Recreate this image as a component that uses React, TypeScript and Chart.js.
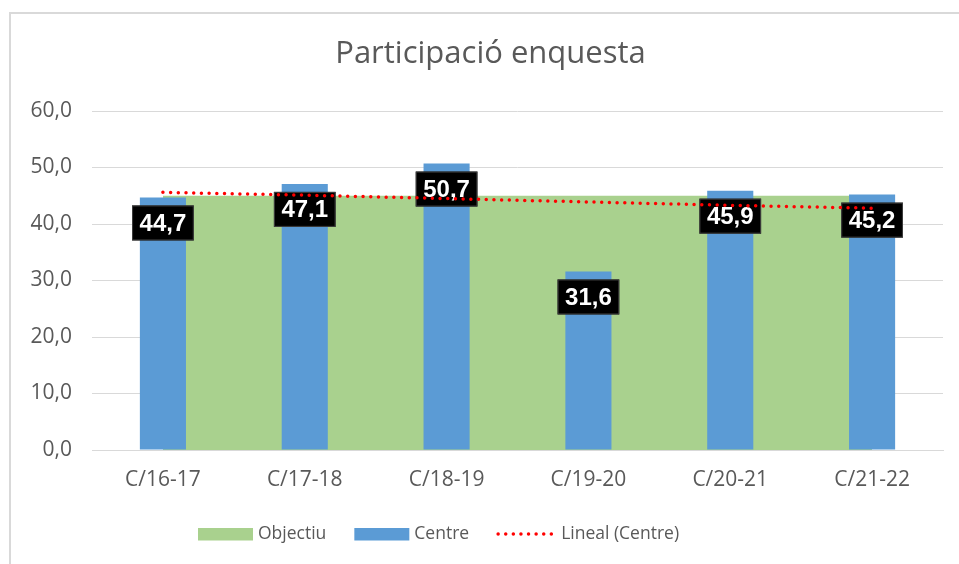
import React, { useEffect, useRef } from "react";
import { Chart, registerables } from "chart.js";

Chart.register(...registerables);

const categories = ["C/16-17", "C/17-18", "C/18-19", "C/19-20", "C/20-21", "C/21-22"];
const objectiu = [45, 45, 45, 45, 45, 45];
const centre = [44.7, 47.1, 50.7, 31.6, 45.9, 45.2];
const trendCentre = [45.6, 45.1, 44.5, 43.9, 43.3, 42.8];
const yMin = 0;
const yMax = 60;
const yStep = 10;
const titleText = "Participació enquesta";
const legendLabels = ["Objectiu", "Centre", "Lineal (Centre)"];

const GREEN = "#a9d18e";
const BLUE = "#5b9bd5";
const RED = "#ff0000";
const TEXT = "#595959";
const GRID = "#d9d9d9";
const FONT = "'Open Sans', sans-serif";

const fmt = (v: number) => v.toFixed(1).replace(".", ",");

const decorPlugin = {
  id: "decor",
  beforeDraw(chart: any) {
    const ctx = chart.ctx;
    ctx.save();
    ctx.fillStyle = GRID;
    ctx.fillRect(9, 12, 950, 2);
    ctx.fillRect(9, 12, 2, 552);
    ctx.restore();
  },
  afterDatasetDraw(chart: any, args: any) {
    if (args.index !== 1) return;
    const ctx = chart.ctx;
    const meta = chart.getDatasetMeta(1);
    ctx.save();
    ctx.font = "bold 24px 'Liberation Sans', Arial, sans-serif";
    ctx.textAlign = "center";
    ctx.textBaseline = "middle";
    meta.data.forEach((bar: any, i: number) => {
      const txt = fmt(centre[i]);
      const w = ctx.measureText(txt).width + 15;
      const h = 35;
      const cx = bar.x;
      const cy = bar.y + 25.5;
      ctx.fillStyle = "#000000";
      ctx.fillRect(cx - w / 2, cy - h / 2, w, h);
      ctx.strokeStyle = "#404040";
      ctx.lineWidth = 1;
      ctx.strokeRect(cx - w / 2 + 0.5, cy - h / 2 + 0.5, w - 1, h - 1);
      ctx.fillStyle = "#ffffff";
      ctx.fillText(txt, cx, cy + 1);
    });
    ctx.restore();
  },
  afterDraw(chart: any) {
    const ctx = chart.ctx;
    ctx.save();
    // title
    ctx.fillStyle = TEXT;
    ctx.font = `31px ${FONT}`;
    ctx.textAlign = "center";
    ctx.textBaseline = "alphabetic";
    ctx.fillText(titleText, 490.5, 63);
    // legend
    ctx.font = `17.5px ${FONT}`;
    ctx.textAlign = "left";
    ctx.textBaseline = "middle";
    const y = 534;
    let x = 198;
    const boxW = 55;
    const kinds = ["green", "blue", "line"];
    legendLabels.forEach((lbl, i) => {
      if (kinds[i] === "line") {
        ctx.save();
        ctx.strokeStyle = RED;
        ctx.lineWidth = 3.5;
        ctx.lineCap = "round";
        ctx.setLineDash([0, 7.6]);
        ctx.beginPath();
        ctx.moveTo(x + 1, y);
        ctx.lineTo(x + boxW, y);
        ctx.stroke();
        ctx.restore();
      } else {
        ctx.fillStyle = kinds[i] === "green" ? GREEN : BLUE;
        ctx.fillRect(x, y - 6, boxW, 12.5);
      }
      ctx.fillStyle = TEXT;
      const tx = x + boxW + (kinds[i] === "line" ? 9 : 5);
      ctx.fillText(lbl, tx, y);
      x = tx + ctx.measureText(lbl).width + 28;
    });
    ctx.restore();
  },
};

export default function App() {
  const ref = useRef<HTMLCanvasElement>(null);
  useEffect(() => {
    if (!ref.current) return;
    const chart = new Chart(ref.current, {
      type: "bar",
      data: {
        labels: categories,
        datasets: [
          {
            type: "line",
            label: legendLabels[0],
            data: objectiu,
            backgroundColor: GREEN,
            borderColor: GREEN,
            borderWidth: 0,
            pointRadius: 0,
            fill: "origin",
            tension: 0,
            order: 3,
          } as any,
          {
            type: "bar",
            label: legendLabels[1],
            data: centre,
            backgroundColor: BLUE,
            borderWidth: 0,
            barPercentage: 1,
            categoryPercentage: 0.325,
            order: 2,
          },
          {
            type: "line",
            label: legendLabels[2],
            data: trendCentre,
            borderColor: RED,
            borderWidth: 3.5,
            borderDash: [0, 7.7],
            borderCapStyle: "round",
            pointRadius: 0,
            fill: false,
            tension: 0,
            order: 1,
          } as any,
        ],
      },
      options: {
        responsive: false,
        animation: false,
        devicePixelRatio: 1,
        layout: { padding: { top: 111, right: 16, bottom: 74, left: 0 } },
        plugins: {
          legend: { display: false },
          title: { display: false },
          tooltip: { enabled: false },
        },
        scales: {
          x: {
            offset: true,
            grid: { display: false, drawTicks: false },
            border: { display: true, color: GRID, width: 1 },
            ticks: { color: TEXT, font: { family: FONT, size: 21 }, padding: 17 },
            afterFit: (s: any) => { s.height = 40; },
          },
          y: {
            min: yMin,
            max: yMax,
            grid: { color: GRID, lineWidth: 1, drawTicks: false },
            border: { display: false },
            ticks: {
              stepSize: yStep,
              color: TEXT,
              font: { family: FONT, size: 21 },
              padding: 20,
              callback: (v: any) => fmt(Number(v)),
            },
            afterFit: (s: any) => { s.width = 92; },
          },
        },
      },
      plugins: [decorPlugin],
    });
    return () => chart.destroy();
  }, []);
  return (
    <canvas
      ref={ref}
      width={959}
      height={564}
      style={{ position: "fixed", left: 0, top: 0, width: 959, height: 564 }}
    />
  );
}
